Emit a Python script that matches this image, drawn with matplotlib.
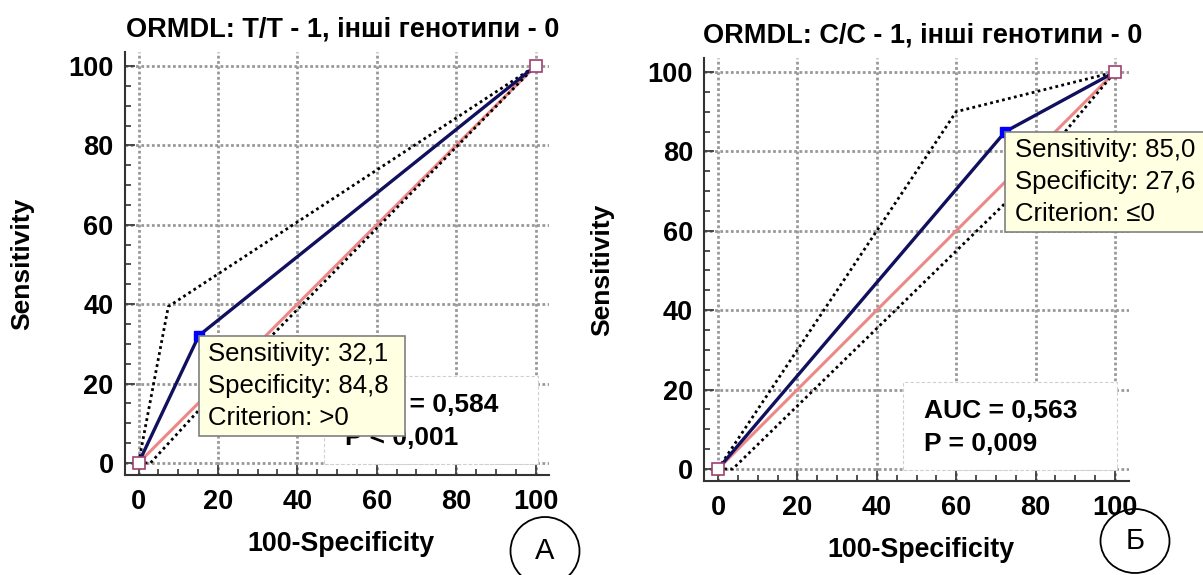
import matplotlib
matplotlib.use('Agg')
import matplotlib.pyplot as plt
from matplotlib.patches import Rectangle, Ellipse
from matplotlib.ticker import MultipleLocator

plt.rcParams['font.family'] = ['Liberation Sans', 'DejaVu Sans']

# panel A: ORMDL T/T
title_a = 'ORMDL: T/T - 1, інші генотипи - 0'
roc_a_x = [0, 15.2, 100]
roc_a_y = [0, 32.1, 100]
ci_hi_a_x = [0, 7.5, 100]
ci_hi_a_y = [0, 39.4, 100]
ci_lo_a_x = [0, 3, 15.2, 100]
ci_lo_a_y = [0, 0, 13.3, 100]
sens_a, spec_a, crit_a = 32.1, 84.8, '>0'
auc_a, p_a = '0,584', '< 0,001'

# panel B: ORMDL C/C
title_b = 'ORMDL: C/C - 1, інші генотипи - 0'
roc_b_x = [0, 72.4, 100]
roc_b_y = [0, 85.0, 100]
ci_hi_b_x = [0, 60, 100]
ci_hi_b_y = [0, 90, 100]
ci_lo_b_x = [0, 3.7, 72.4, 100]
ci_lo_b_y = [0, 0, 67, 100]
sens_b, spec_b, crit_b = 85.0, 27.6, '≤0'
auc_b, p_b = '0,563', '= 0,009'

diag = [0, 100]


def fmt(v):
    return f'{v:.1f}'.replace('.', ',')


def draw_panel(ax, title, rx, ry, hx, hy, lx, ly, sens, spec, crit, auc, p):
    ax.set_xlim(-3.5, 103.5)
    ax.set_ylim(-3, 103.5)
    for s in ['top', 'right']:
        ax.spines[s].set_visible(False)
    for s in ['left', 'bottom']:
        ax.spines[s].set_linewidth(1.5)
        ax.spines[s].set_color('#333333')
    for axis in [ax.xaxis, ax.yaxis]:
        axis.set_major_locator(MultipleLocator(20))
        axis.set_minor_locator(MultipleLocator(5))
    ax.tick_params(which='both', direction='in', color='#333333', width=1.2)
    ax.tick_params(which='major', length=7, labelsize=19.5)
    ax.tick_params(which='minor', length=4)
    ax.tick_params(axis='x', pad=10)
    ax.tick_params(axis='y', pad=8)
    for lbl in ax.get_xticklabels() + ax.get_yticklabels():
        lbl.set_fontweight('bold')
    ax.set_axisbelow(True)
    ax.grid(True, which='major', color='#999999', linestyle=(0, (1.0, 0.9)), linewidth=2.0)

    # white box behind statistics
    ax.add_patch(Rectangle((46.6, -0.3), 54, 22.2, facecolor='white', edgecolor='#d0d0d0',
                           linewidth=0.8, linestyle=(0, (3, 2)), zorder=1))
    ax.text(52, 17.7, f'AUC = {auc}', fontsize=19, fontweight='bold', va='top', zorder=3)
    ax.text(52, 9.2, f'P {p}', fontsize=19, fontweight='bold', va='top', zorder=3)

    ax.plot(diag, diag, color='#EE8888', linewidth=2.2, zorder=2)
    ax.plot(hx, hy, color='black', linestyle=(0, (1, 1.2)), linewidth=2.0, zorder=2.5)
    ax.plot(lx, ly, color='black', linestyle=(0, (1, 1.2)), linewidth=2.0, zorder=2.5)
    ax.plot(rx, ry, color='#10105E', linewidth=2.4, zorder=3)
    ax.plot([rx[0], rx[-1]], [ry[0], ry[-1]], 's', mfc='white', mec='#A04070', ms=9,
            mew=1.2, zorder=4, clip_on=False)
    fpr = 100 - spec
    ax.plot(fpr, sens, 's', color='#0000FF', ms=7.5, zorder=4)

    # tooltip
    ax.add_patch(Rectangle((fpr, sens - 25.2), 52, 25.2, facecolor='#FFFFE1', edgecolor='#808080',
                           linewidth=1.2, zorder=5, clip_on=False))
    lines = [f'Sensitivity: {fmt(sens)}', f'Specificity: {fmt(spec)}', f'Criterion: {crit}']
    for i, t in enumerate(lines):
        ax.text(fpr + 2.4, sens - 4.7 - 8 * i, t, fontsize=18.5, va='center', zorder=6, clip_on=False)

    ax.text(0.514, 1.038, title, transform=ax.transAxes, ha='center', va='baseline',
            fontsize=19.5, fontweight='bold')
    ax.text(0.51, -0.18, '100-Specificity', transform=ax.transAxes, ha='center', va='baseline',
            fontsize=19.3, fontweight='bold')
    ax.text(-0.24, 0.5, 'Sensitivity', transform=ax.transAxes, ha='center', va='center',
            rotation=90, fontsize=19, fontweight='bold')


fig = plt.figure(figsize=(12.03, 5.75), dpi=100)
ax_a = fig.add_axes([0.1036, 0.1741, 0.3531, 0.7353])
ax_b = fig.add_axes([0.5853, 0.1637, 0.3531, 0.7353])

draw_panel(ax_a, title_a, roc_a_x, roc_a_y, ci_hi_a_x, ci_hi_a_y, ci_lo_a_x, ci_lo_a_y,
           sens_a, spec_a, crit_a, auc_a, p_a)
draw_panel(ax_b, title_b, roc_b_x, roc_b_y, ci_hi_b_x, ci_hi_b_y, ci_lo_b_x, ci_lo_b_y,
           sens_b, spec_b, crit_b, auc_b, p_b)

# panel letters in circles
for cx, cy, h, letter in [(545, 551, 68, 'А'), (1135, 541, 64, 'Б')]:
    fig.add_artist(Ellipse((cx / 1203, 1 - cy / 575), 69 / 1203, h / 575,
                           transform=fig.transFigure, fill=False, edgecolor='black', linewidth=1.3))
    fig.text(cx / 1203, 1 - cy / 575, letter, ha='center', va='center', fontsize=21)

fig.savefig('out.png', dpi=100)
